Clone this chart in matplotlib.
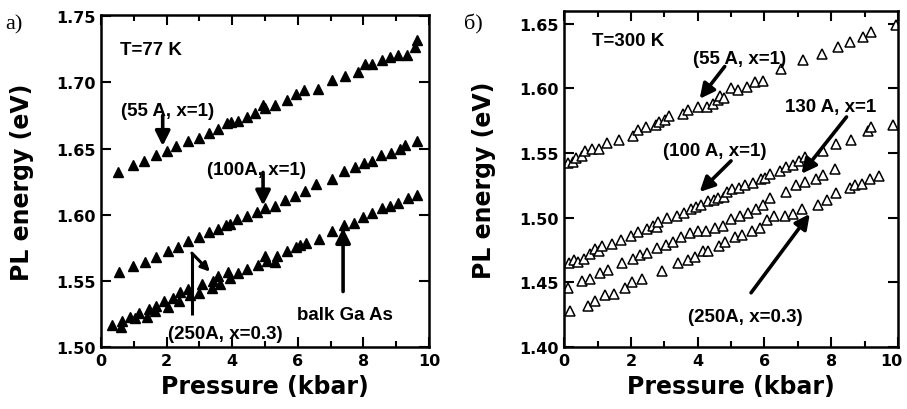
import numpy as np
import matplotlib
matplotlib.use("Agg")
import matplotlib.pyplot as plt
from matplotlib.transforms import ScaledTranslation

# T = 77 K, filled triangles
p55_77 = [0.52, 0.98, 1.32, 1.67, 2.0, 2.3, 2.64, 3.0, 3.3, 3.57, 3.83, 3.95, 4.18,
          4.45, 4.7, 4.95, 5.0, 5.3, 5.67, 5.95, 6.2, 6.62, 7.04, 7.44, 7.84, 8.05,
          8.25, 8.56, 8.8, 9.06, 9.33, 9.57, 9.63]
e55_77 = [1.632, 1.638, 1.641, 1.645, 1.648, 1.652, 1.656, 1.658, 1.662, 1.665, 1.669,
          1.670, 1.671, 1.674, 1.677, 1.683, 1.681, 1.683, 1.687, 1.691, 1.694, 1.695,
          1.702, 1.705, 1.708, 1.714, 1.714, 1.717, 1.719, 1.721, 1.721, 1.727, 1.732]

p100_77 = [0.55, 0.98, 1.34, 1.67, 2.05, 2.34, 2.64, 2.99, 3.3, 3.57, 3.8, 3.93, 4.15,
           4.46, 4.75, 5.0, 5.3, 5.6, 5.92, 6.22, 6.55, 7.04, 7.4, 7.74, 8.02, 8.26,
           8.54, 8.84, 9.12, 9.27, 9.63]
e100_77 = [1.557, 1.561, 1.564, 1.568, 1.573, 1.576, 1.580, 1.583, 1.587, 1.589, 1.592,
           1.593, 1.597, 1.599, 1.602, 1.605, 1.607, 1.611, 1.614, 1.618, 1.623, 1.627,
           1.633, 1.636, 1.639, 1.641, 1.645, 1.647, 1.650, 1.653, 1.656]

# bulk GaAs and 250 A (x=0.3) lie on top of each other
pbulk_77 = [0.34, 0.64, 1.04, 1.4, 1.67, 2.05, 2.41, 2.71, 3.08, 3.38, 3.63, 3.93,
            4.18, 4.8, 5.06, 5.37, 5.94, 6.25, 7.04, 7.72, 8.26, 8.8, 9.36]
ebulk_77 = [1.517, 1.520, 1.522, 1.523, 1.531, 1.530, 1.542, 1.539, 1.548, 1.545,
            1.548, 1.552, 1.556, 1.562, 1.565, 1.569, 1.576, 1.579, 1.588, 1.594,
            1.601, 1.607, 1.613]
p250_77 = [0.6, 0.88, 1.17, 1.45, 1.65, 1.92, 2.19, 2.39, 2.66, 3.0, 3.42, 3.57, 3.87,
           4.46, 5.0, 5.3, 5.67, 6.07, 6.65, 7.41, 8.0, 8.56, 9.06, 9.63]
e250_77 = [1.515, 1.523, 1.526, 1.529, 1.527, 1.535, 1.537, 1.535, 1.544, 1.541,
           1.550, 1.554, 1.557, 1.559, 1.569, 1.564, 1.573, 1.577, 1.582, 1.592,
           1.598, 1.605, 1.609, 1.615]

# T = 300 K, open triangles
p55_300 = [0.12, 0.26, 0.35, 0.52, 0.62, 0.82, 1.04, 1.28, 1.64, 2.05, 2.2, 2.46,
           2.74, 2.84, 3.01, 3.13, 3.56, 3.71, 4.01, 4.29, 4.46, 4.61, 4.68, 4.78,
           5.01, 5.21, 5.49, 5.71, 5.96, 6.51, 7.16, 7.74, 8.2, 8.57, 8.95, 9.18, 9.93]
e55_300 = [1.542, 1.543, 1.546, 1.548, 1.552, 1.553, 1.553, 1.558, 1.560, 1.563,
           1.568, 1.570, 1.572, 1.574, 1.576, 1.579, 1.580, 1.583, 1.586, 1.586,
           1.588, 1.591, 1.594, 1.593, 1.600, 1.599, 1.601, 1.605, 1.606, 1.615,
           1.622, 1.627, 1.632, 1.636, 1.640, 1.644, 1.649]

p100_300 = [0.15, 0.29, 0.42, 0.59, 0.77, 0.92, 1.05, 1.14, 1.42, 1.69, 1.99, 2.22,
            2.49, 2.65, 2.77, 2.81, 3.08, 3.37, 3.58, 3.81, 3.96, 4.11, 4.31, 4.48,
            4.61, 4.78, 4.88, 5.04, 5.24, 5.41, 5.66, 5.91, 6.01, 6.16, 6.46, 6.66,
            6.86, 7.04, 7.21, 7.75, 8.15, 8.6, 9.1, 9.18, 9.85]
e100_300 = [1.465, 1.467, 1.466, 1.468, 1.472, 1.476, 1.474, 1.478, 1.480, 1.483,
            1.486, 1.489, 1.491, 1.494, 1.493, 1.497, 1.500, 1.501, 1.504, 1.507,
            1.508, 1.510, 1.513, 1.514, 1.515, 1.516, 1.520, 1.522, 1.523, 1.525,
            1.527, 1.530, 1.531, 1.534, 1.536, 1.539, 1.541, 1.544, 1.547, 1.552,
            1.557, 1.560, 1.567, 1.570, 1.572]

p130_300 = [0.12, 0.52, 0.77, 1.07, 1.32, 1.72, 2.07, 2.27, 2.49, 2.78, 3.04, 3.26,
            3.51, 3.76, 4.01, 4.26, 4.51, 4.76, 5.01, 5.26, 5.51, 5.76, 5.96, 6.18,
            6.66, 6.96, 7.21, 7.56, 7.75, 8.1]
e130_300 = [1.446, 1.451, 1.453, 1.457, 1.460, 1.465, 1.468, 1.471, 1.473, 1.477,
            1.479, 1.481, 1.485, 1.488, 1.490, 1.490, 1.492, 1.494, 1.499, 1.501,
            1.504, 1.507, 1.510, 1.515, 1.520, 1.525, 1.528, 1.530, 1.533, 1.538]

p250_300 = [0.17, 0.72, 0.92, 1.22, 1.49, 1.82, 2.02, 2.32, 2.92, 3.41, 3.71, 3.91,
            4.16, 4.31, 4.64, 4.81, 5.11, 5.34, 5.63, 5.86, 6.08, 6.28, 6.61, 6.86,
            7.14, 7.6, 7.86, 8.13, 8.56, 8.71, 8.91, 9.15, 9.43]
e250_300 = [1.428, 1.432, 1.436, 1.440, 1.441, 1.446, 1.450, 1.453, 1.459, 1.465,
            1.467, 1.470, 1.474, 1.474, 1.478, 1.481, 1.485, 1.487, 1.490, 1.492,
            1.498, 1.501, 1.501, 1.503, 1.507, 1.510, 1.514, 1.519, 1.523, 1.525,
            1.526, 1.530, 1.532]

xticks = [0, 2, 4, 6, 8, 10]

TICKFONT = dict(family="DejaVu Sans", weight="bold", size=11.5)
LABELFONT = dict(family="DejaVu Sans", weight="heavy", size=17)
NOTEFONT = dict(family="Liberation Sans", weight="bold", size=13.5)
ARROW = dict(arrowstyle="-|>", color="k", lw=2.6, mutation_scale=22,
             shrinkA=0, shrinkB=0)

fig = plt.figure(figsize=(9.07, 4.10), dpi=100)
ax1 = fig.add_axes([0.1114, 0.151, 0.3616, 0.810])
ax2 = fig.add_axes([0.622, 0.151, 0.368, 0.820])


def style(ax, ylim, yticks):
    ax.set_xlim(0, 10)
    ax.set_ylim(*ylim)
    ax.set_xticks(xticks)
    ax.set_xticks([1, 3, 5, 7, 9], minor=True)
    ax.set_yticks(yticks)
    ax.set_xticklabels([str(v) for v in xticks], fontdict=TICKFONT)
    ax.set_yticklabels(["%.2f" % v for v in yticks], fontdict=TICKFONT)
    ax.tick_params(which="both", direction="in", top=True, right=True, width=1.5)
    ax.tick_params(which="major", length=7, pad=4)
    ax.tick_params(which="minor", length=4)
    for s in ax.spines.values():
        s.set_linewidth(1.8)
    ax.set_xlabel("Pressure (kbar)", fontdict=LABELFONT)
    ax.set_ylabel("PL energy (eV)", fontdict=LABELFONT)
    ax.xaxis.set_label_coords(0.5, -0.08)
    ax.yaxis.set_label_coords(-0.205, 0.5)


# a) 77 K
tri = dict(marker="^", ls="none", color="k", ms=7)
ax1.plot(p55_77, e55_77, **tri)
ax1.plot(p100_77, e100_77, **tri)
ax1.plot(pbulk_77, ebulk_77, **tri)
ax1.plot(p250_77, e250_77, **tri)
style(ax1, (1.50, 1.751), [1.50, 1.55, 1.60, 1.65, 1.70, 1.75])

ax1.text(0.58, 1.725, "T=77 K", fontdict=NOTEFONT, va="center")
ax1.text(2.04, 1.679, "(55 A, x=1)", fontdict=NOTEFONT, ha="center", va="center")
ax1.annotate("", xy=(1.88, 1.652), xytext=(1.88, 1.675), arrowprops=ARROW)
ax1.text(4.75, 1.634, "(100A, x=1)", fontdict=NOTEFONT, ha="center", va="center")
ax1.annotate("", xy=(4.94, 1.607), xytext=(4.94, 1.632), arrowprops=ARROW)
ax1.text(7.44, 1.525, "balk Ga As", fontdict=NOTEFONT, ha="center", va="center")
ax1.annotate("", xy=(7.38, 1.590), xytext=(7.38, 1.542), arrowprops=ARROW)
ax1.text(3.8, 1.510, "(250A, x=0.3)", fontdict=NOTEFONT, ha="center", va="center")
ax1.plot([2.77, 2.77], [1.524, 1.571], color="k", lw=2.2, solid_capstyle="butt")
ax1.annotate("", xy=(3.32, 1.557), xytext=(2.77, 1.571),
             arrowprops=dict(arrowstyle="-|>", color="k", lw=2.2, fill=False,
                             mutation_scale=13, shrinkA=0, shrinkB=0))

# b) 300 K
otri = dict(marker="^", ls="none", mfc="white", mec="k", mew=1.1, ms=6.5)
ax2.plot(p55_300, e55_300, **otri)
ax2.plot(p100_300, e100_300, **otri)
ax2.plot(p130_300, e130_300, **otri)
ax2.plot(p250_300, e250_300, **otri)
style(ax2, (1.40, 1.66), [1.40, 1.45, 1.50, 1.55, 1.60, 1.65])

# keep the last "10" inside the figure edge
last = ax2.get_xticklabels()[-1]
last.set_transform(last.get_transform() + ScaledTranslation(-5 / 72, 0, fig.dpi_scale_trans))

ax2.text(0.82, 1.637, "T=300 K", fontdict=NOTEFONT, va="center")
ax2.text(5.26, 1.623, "(55 A, x=1)", fontdict=NOTEFONT, ha="center", va="center")
ax2.annotate("", xy=(4.06, 1.592), xytext=(4.81, 1.617), arrowprops=ARROW)
ax2.text(7.97, 1.586, "130 A, x=1", fontdict=NOTEFONT, ha="center", va="center")
ax2.annotate("", xy=(7.11, 1.534), xytext=(8.46, 1.578), arrowprops=ARROW)
ax2.text(4.5, 1.552, "(100 A, x=1)", fontdict=NOTEFONT, ha="center", va="center")
ax2.annotate("", xy=(4.06, 1.520), xytext=(5.0, 1.544), arrowprops=ARROW)
ax2.text(5.43, 1.424, "(250A, x=0.3)", fontdict=NOTEFONT, ha="center", va="center")
ax2.annotate("", xy=(7.36, 1.503), xytext=(5.6, 1.442), arrowprops=ARROW)

fig.text(0.006, 0.94, "a)", family="Liberation Serif", size=16, va="center")
fig.text(0.512, 0.94, "б)", family="Liberation Serif", size=16, va="center")

fig.savefig("out.png", dpi=100)
